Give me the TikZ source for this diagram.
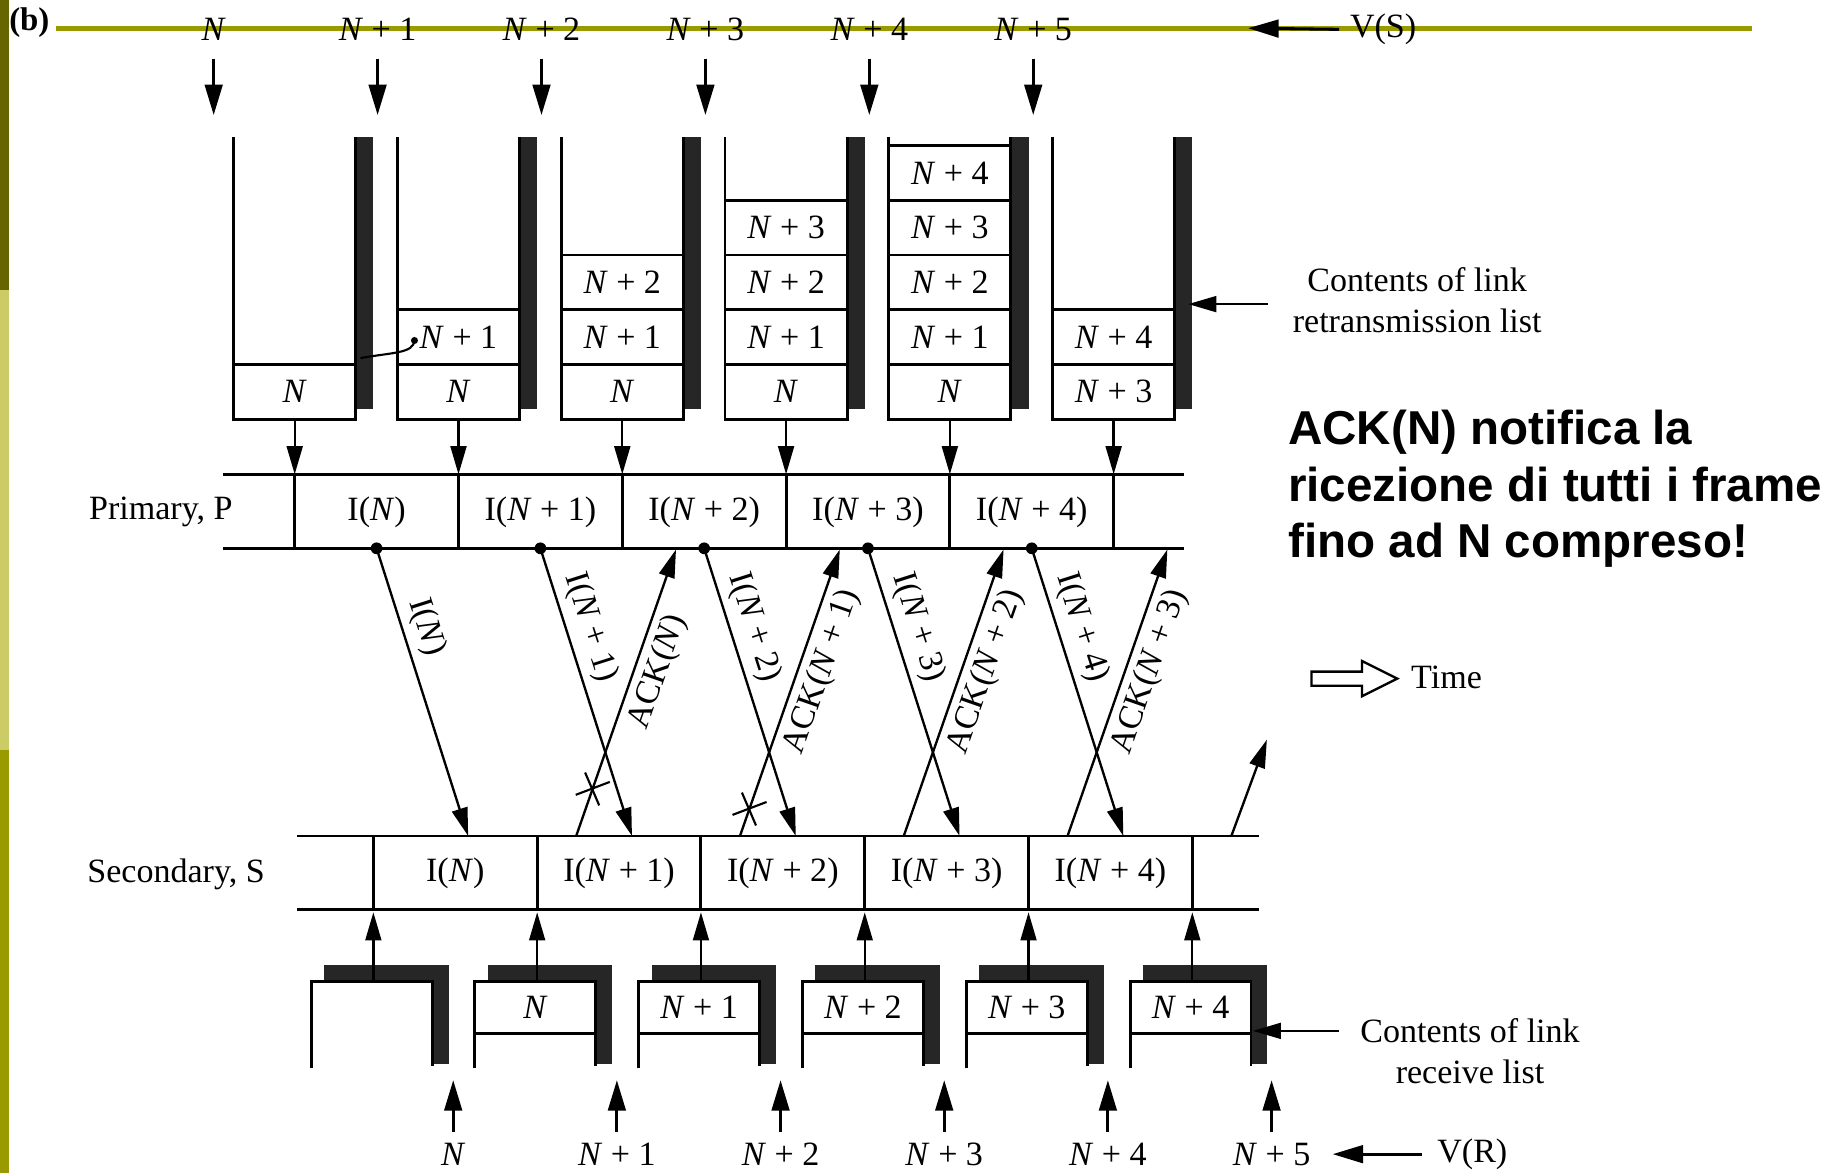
\documentclass[tikz,border=0pt]{standalone}
\usepackage{fontspec}
\setmainfont{Liberation Serif}
\newfontfamily\notefont{Liberation Sans}
\usetikzlibrary{arrows.meta}
\definecolor{olivebar}{RGB}{153,153,0}
\definecolor{olivedark}{RGB}{102,102,0}
\definecolor{olivelight}{RGB}{204,204,102}
\newcommand{\Nlab}[1]{\ifnum#1=0 \textit{N}\else\textit{N} + #1\fi}
\tikzset{
  lbl/.style={font=\fontsize{29}{35}\selectfont,inner sep=1pt},
  note/.style={font=\notefont\bfseries\fontsize{40.5}{48}\selectfont,inner sep=0pt,anchor=base west},
  wall/.style={line width=2.5pt},
  shadebar/.style={fill=black!85,draw=none},
  bigarrow/.style={-{Triangle[length=26pt,width=15pt]},line width=2.6pt},
  framearrow/.style={-{Triangle[length=24pt,width=13.5pt]},line width=2pt},
  joint/.style={circle,fill,inner sep=0pt,minimum size=10pt},
}
\begin{document}
\begin{tikzpicture}[x=1pt,y=-1pt]
\useasboundingbox (0,0) rectangle (1568,999);
% slide decoration
\fill[olivedark] (0,0) rectangle (8,247);
\fill[olivelight] (0,247) rectangle (8,639);
\fill[olivebar] (0,639) rectangle (8,999);
\draw[olivebar,line width=4pt] (48,24) -- (1492,24);
\node[font=\bfseries\fontsize{28}{32}\selectfont,inner sep=0pt] (part) at (25,19) {(b)};

% send state variable V(S)
\foreach \i in {0,...,5} {
  \node[lbl] (vs\i) at ({182+139.6*\i},25) {\Nlab{\i}};
  \coordinate (vsa\i) at ({182+139.6*\i},50);
  \coordinate (vsb\i) at ({182+139.6*\i},98);
  \draw[bigarrow] (vsa\i) -- (vsb\i);
}
\node[lbl] (vsname) at (1178,25) {V(S)};
\coordinate (vstip) at (1063,24);
\draw[bigarrow] ([xshift=-8pt]vsname.west) -- (vstip);

% link retransmission lists
\foreach \i/\lo/\hi in {0/0/0,1/0/1,2/0/2,3/0/3,4/0/4,5/3/4} {
  \pgfmathsetmacro{\colx}{251+139.5*\i}
  \fill[shadebar] (\colx+52,117) rectangle (\colx+67,348);
  \draw[wall] (\colx-52,117) -- (\colx-52,357) -- (\colx+52,357) -- (\colx+52,117);
  \foreach \k [evaluate=\k as \j using int(\k-\lo)] in {\lo,...,\hi} {
    \draw[wall] (\colx-52,{357-46.6*(\j+1)}) -- (\colx+52,{357-46.6*(\j+1)});
    \node[lbl] (rl\i-\k) at (\colx,{357-46.6*(\j+0.5)}) {\Nlab{\k}};
  }
  \coordinate (rlout\i) at (\colx,357);
  \coordinate (pin\i) at (\colx,404);
  \draw[framearrow] (rlout\i) -- (pin\i);
}
\coordinate (ptrfrom) at (307,305);
\node[joint,minimum size=6pt] (ptrto) at (353,290) {};
\draw[line width=1.8pt] (ptrfrom) .. controls (335,300) and (352,301) .. (ptrto.center);
\node[lbl,align=center] (rtnote) at (1207,256) {Contents of link\\retransmission list};
\coordinate (rttip) at (1012,259);
\draw[framearrow] ([xshift=-20pt,yshift=-3pt]rtnote.west) -- (rttip);

% primary
\draw[wall] (190,404) -- (1008,404);
\draw[wall] (190,467) -- (1008,467);
\node[lbl] (prim) at (137,436) {Primary, P};
\foreach \i in {0,...,5}
  \draw[wall] ({251+139.5*\i},404) -- ({251+139.5*\i},467);
\foreach \i in {0,...,4}
  \node[lbl] (pf\i) at ({320.75+139.5*\i},436) {I(\Nlab{\i})};

% secondary
\draw[wall] (253,712) -- (1072,712);
\draw[wall] (253,775) -- (1072,775);
\node[lbl] (sec) at (150,745) {Secondary, S};
\foreach \i in {0,...,5}
  \draw[wall] ({318+139.5*\i},712) -- ({318+139.5*\i},775);
\foreach \i in {0,...,4}
  \node[lbl] (sf\i) at ({387.75+139.5*\i},744) {I(\Nlab{\i})};

% frames and acknowledgements
\foreach \i in {0,...,4} {
  \pgfmathsetmacro{\dotx}{320.75+139.5*\i}
  \node[joint] (pd\i) at (\dotx,467) {};
  \coordinate (si\i) at (\dotx+78,712);
  \coordinate (sa\i) at (\dotx+170,712);
  \draw[framearrow] (pd\i.center) -- node[lbl,sloped,above=5pt,pos=0.3] (il\i) {I(\Nlab{\i})} (si\i);
}
\foreach \i in {0,...,3} {
  \coordinate (pa\i) at ({320.75+139.5*\i+255},468);
  \draw[framearrow] (sa\i) -- node[lbl,sloped,below=5pt,pos=0.6] (al\i) {ACK(\Nlab{\i})} (pa\i);
}
\coordinate (pa4) at (1079,630);
\draw[framearrow] (sa4) -- (pa4);
\path (sa0) -- coordinate[pos=0.16] (lost0) (pa0);
\path (sa1) -- coordinate[pos=0.09] (lost1) (pa1);
\foreach \i in {0,1}
  \draw[line width=1.8pt,shift={(lost\i)}] (-14,4) -- (15,-7) (-6,-15) -- (6,13);

% link receive lists
\foreach \i in {0,...,5} {
  \pgfmathsetmacro{\bx}{265+139.5*\i}
  \fill[shadebar] (\bx+11,822) rectangle (\bx+117,906);
  \fill[white] (\bx,836) rectangle (\bx+103,912);
  \draw[wall] (\bx,910) -- (\bx,836) -- (\bx+103,836) -- (\bx+103,908);
  \coordinate (rvin\i) at (\bx+53,836);
  \coordinate (sout\i) at (\bx+53,777);
  \draw[framearrow] (rvin\i) -- (sout\i);
  \ifnum\i>0
    \pgfmathtruncatemacro{\prev}{\i-1}
    \draw[wall] (\bx,880) -- (\bx+103,880);
    \node[lbl] (rv\i) at (\bx+51.5,858) {\Nlab{\prev}};
  \fi
}
\node[lbl,align=center] (rvnote) at (1252,895) {Contents of link\\receive list};
\coordinate (rvtip) at (1067,878);
\draw[framearrow] ([xshift=-17pt,yshift=17pt]rvnote.west) -- (rvtip);

% receive state variable V(R)
\foreach \i in {0,...,5} {
  \coordinate (vra\i) at ({386+139.4*\i},964);
  \coordinate (vrb\i) at ({386+139.4*\i},920);
  \draw[bigarrow] (vra\i) -- (vrb\i);
  \node[lbl] (vr\i) at ({386+139.4*\i},983) {\Nlab{\i}};
}
\node[lbl] (vrname) at (1254,983) {V(R)};
\coordinate (vrtip) at (1135,983);
\draw[bigarrow] ([xshift=-12pt]vrname.west) -- (vrtip);

% remarks
\node[note] (ack1) at (1097,379) {ACK(N) notifica la};
\node[note] (ack2) at (1097,427) {ricezione di tutti i frame};
\node[note] (ack3) at (1097,475) {fino ad N compreso!};
\draw[line width=2pt] (1117,572) -- (1160,572) -- (1160,563) -- (1190,578) -- (1160,593) -- (1160,584) -- (1117,584) -- cycle;
\node[lbl] (time) at (1232,577) {Time};
\end{tikzpicture}
\end{document}
